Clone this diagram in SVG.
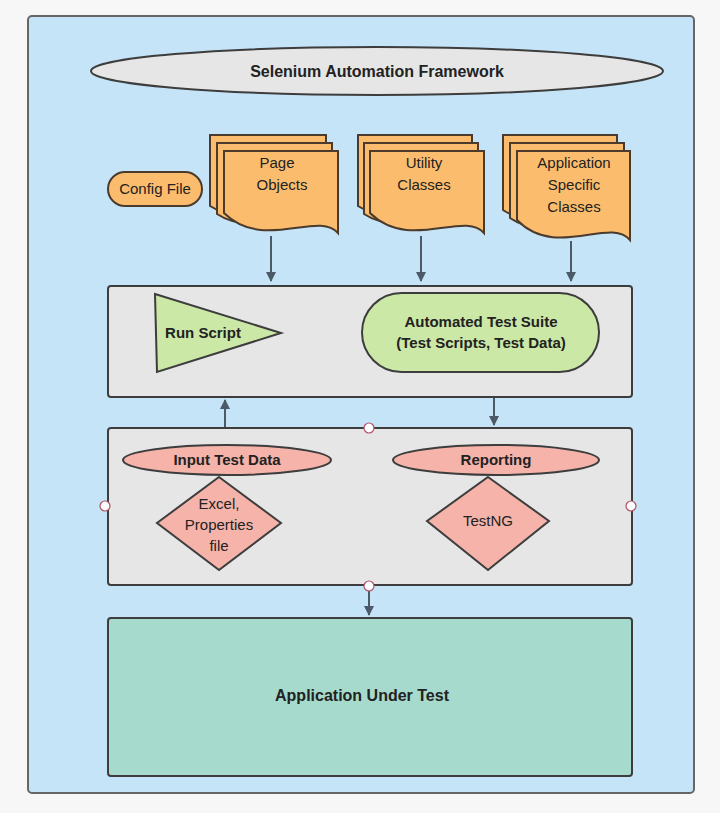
<svg xmlns="http://www.w3.org/2000/svg" width="720" height="813" viewBox="0 0 720 813">
<defs>
<style>
text{font-family:"Liberation Sans",Arial,sans-serif;fill:#222;text-anchor:middle}
.b{font-weight:bold}
.s{stroke:#3d3d3d;stroke-width:2}
.doc{fill:#fbbd6d;stroke:#4a3b2c;stroke-width:2}
.con{stroke:#4b5a66;stroke-width:2;fill:none;marker-end:url(#ah)}
.dot{fill:#fff;stroke:#b05060;stroke-width:1.2}
</style>
<marker id="ah" viewBox="0 0 10 10" refX="9" refY="5" markerWidth="5" markerHeight="5" orient="auto"><path d="M0,0L10,5L0,10z" fill="#4b5a66"/></marker>
</defs>
<rect width="720" height="813" fill="#f7f7f7"/>
<g id="panel"><rect x="28" y="16" width="666" height="777" rx="4" fill="#c6e4f7" stroke="#666" stroke-width="2"/></g>
<g id="title"><ellipse cx="377" cy="71" rx="286" ry="24" fill="#e6e6e6" class="s"/><text x="377" y="77" font-size="16" class="b">Selenium Automation Framework</text></g>
<g id="config"><rect x="108" y="172" width="94" height="34" rx="17" class="doc"/><text x="155" y="194" font-size="15">Config File</text></g>
<g id="page">
<path class="doc" d="M210,135H326V212C306,198 250,232 210,206Z"/>
<path class="doc" d="M217,143H332V222C312,206 256,240 217,214Z"/>
<path class="doc" d="M224,151H338V233C318,210 264,252 224,213Z"/>
<text x="277" y="168" font-size="15">Page</text><text x="282" y="190" font-size="15">Objects</text></g>
<g id="utility">
<path class="doc" d="M358,135H472V212C452,198 398,232 358,206Z"/>
<path class="doc" d="M364,143H478V222C458,206 404,240 364,214Z"/>
<path class="doc" d="M370,151H484V233C464,210 410,252 370,213Z"/>
<text x="424" y="168" font-size="15">Utility</text><text x="424" y="190" font-size="15">Classes</text></g>
<g id="app">
<path class="doc" d="M503,135H617V215C597,200 543,236 503,210Z"/>
<path class="doc" d="M510,143H624V226C604,210 550,246 510,218Z"/>
<path class="doc" d="M517,151H630V240C610,216 556,260 517,220Z"/>
<text x="574" y="168" font-size="15">Application</text><text x="574" y="190" font-size="15">Specific</text><text x="574" y="212" font-size="15">Classes</text></g>
<g id="box1"><rect x="108" y="286" width="524" height="111" rx="3" fill="#e6e6e6" class="s"/></g>
<g id="runscript"><path d="M155,294L281,333L157,372Z" fill="#cbe8a6" class="s"/><text x="203" y="338" font-size="15" class="b">Run Script</text></g>
<g id="suite"><rect x="362" y="293" width="237" height="79" rx="39.5" fill="#cbe8a6" class="s"/><text x="481" y="327" font-size="15" class="b">Automated Test Suite</text><text x="481" y="348" font-size="15" class="b">(Test Scripts, Test Data)</text></g>
<g id="box2"><rect x="108" y="428" width="524" height="157" rx="3" fill="#e6e6e6" class="s"/></g>
<g id="input"><ellipse cx="227" cy="460" rx="104" ry="15" fill="#f5b3aa" class="s"/><text x="227" y="465" font-size="15" class="b">Input Test Data</text></g>
<g id="excel"><path d="M219,477L281,523L219,570L157,523Z" fill="#f5b3aa" class="s"/><text x="219" y="509" font-size="15">Excel,</text><text x="219" y="530" font-size="15">Properties</text><text x="219" y="551" font-size="15">file</text></g>
<g id="reporting"><ellipse cx="496" cy="460" rx="103" ry="15" fill="#f5b3aa" class="s"/><text x="496" y="465" font-size="15" class="b">Reporting</text></g>
<g id="testng"><path d="M488,477L549,521L488,570L427,521Z" fill="#f5b3aa" class="s"/><text x="488" y="526" font-size="15">TestNG</text></g>
<g id="aut"><rect x="108" y="618" width="524" height="158" rx="3" fill="#a6dacd" class="s"/><text x="362" y="701" font-size="16" class="b">Application Under Test</text></g>
<g id="connectors">
<path class="con" d="M271,236V281"/>
<path class="con" d="M421,236V281"/>
<path class="con" d="M571,241V281"/>
<path class="con" d="M225,427V400"/>
<path class="con" d="M494,398V425"/>
<path class="con" d="M369,591V615"/>
</g>
<g id="handles">
<circle class="dot" cx="369" cy="428" r="5"/><circle class="dot" cx="105" cy="506" r="5"/><circle class="dot" cx="631" cy="506" r="5"/><circle class="dot" cx="369" cy="586" r="5"/>
</g>
</svg>
